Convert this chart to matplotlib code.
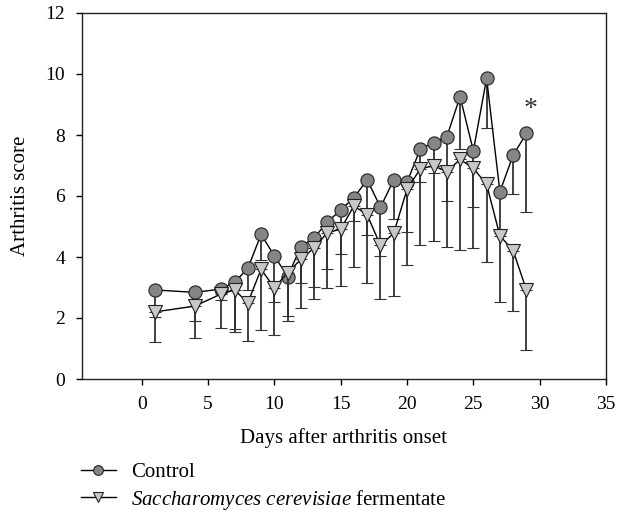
import numpy as np
import matplotlib.pyplot as plt
from matplotlib.lines import Line2D

plt.rcParams['font.family'] = ['Liberation Serif', 'DejaVu Serif']
plt.rcParams['mathtext.fontset'] = 'custom'
plt.rcParams['mathtext.rm'] = 'Liberation Serif'
plt.rcParams['mathtext.it'] = 'Liberation Serif:italic'

# Data
days = [1, 4, 6, 7, 8, 9, 10, 11, 12, 13, 14, 15, 16, 17, 18, 19, 20,
        21, 22, 23, 24, 25, 26, 27, 28, 29]

control = [2.92, 2.84, 2.95, 3.17, 3.63, 4.74, 4.04, 3.36, 4.34, 4.63, 5.15, 5.54, 5.95,
           6.53, 5.63, 6.53, 6.45, 7.54, 7.75, 7.94, 9.26, 7.48, 9.86, 6.14, 7.34, 8.05]
control_err = [0.88, 0.94, 0.36, 1.53, 0.71, 0.84, 1.53, 1.28, 1.20, 1.60, 1.55, 1.45, 0.76,
               1.80, 1.59, 1.28, 1.62, 1.09, 0.99, 2.09, 1.73, 1.83, 1.64, 1.35, 1.27, 2.56]

ferment = [2.20, 2.39, 2.79, 2.92, 2.50, 3.60, 2.99, 3.49, 3.92, 4.30, 4.80, 4.91, 5.68,
           5.38, 4.38, 4.78, 6.22, 6.89, 6.99, 6.80, 7.20, 6.91, 6.38, 4.70, 4.21, 2.92]
ferment_err = [0.98, 1.06, 1.11, 1.37, 1.24, 2.00, 1.55, 1.60, 1.60, 1.69, 1.80, 1.85, 2.02,
               2.24, 1.75, 2.06, 2.48, 2.50, 2.47, 2.46, 2.97, 2.60, 2.55, 2.19, 1.97, 1.97]

labels = ['Control', r'$\mathit{Saccharomyces\ cerevisiae}$ fermentate']
star_day, star_y = 29.3, 8.85

fig = plt.figure(figsize=(6.18, 5.16), dpi=100)
ax = fig.add_axes([82 / 618, 1 - 379 / 516, (606 - 82) / 618, (379 - 13) / 516])

line_kw = dict(color='black', lw=1.0, ecolor='#333333', elinewidth=1.3,
               capsize=4.5, capthick=1.3, markeredgecolor='#222222', markeredgewidth=0.8)

# only the lower half of the error bar is drawn
ax.errorbar(days, control, yerr=[control_err, np.zeros(len(days))], fmt='-o',
            markersize=9.5, markerfacecolor='#858585', zorder=3, **line_kw)
ax.errorbar(days, ferment, yerr=[ferment_err, np.zeros(len(days))], fmt='-v',
            markersize=10.5, markerfacecolor='#c8c8c8', zorder=4, **line_kw)

ax.text(star_day, star_y, '*', fontsize=20, ha='center', va='center', color='#333333')

ax.set_xlim(-4.5, 35)
ax.set_ylim(0, 12)
ax.set_xticks(range(0, 36, 5))
ax.set_yticks(range(0, 13, 2))
ax.tick_params(direction='out', length=4, width=1, labelsize=14, pad=8)
for s in ax.spines.values():
    s.set_linewidth(1.0)
    s.set_color('#222222')

ax.set_xlabel('Days after arthritis onset', fontsize=15, labelpad=11)
ax.set_ylabel('Arthritis score', fontsize=15, labelpad=11)

handles = [
    Line2D([], [], color='black', lw=1.0, marker='o', markersize=7,
           markerfacecolor='#858585', markeredgecolor='#222222', markeredgewidth=0.8),
    Line2D([], [], color='black', lw=1.0, marker='v', markersize=7.5,
           markerfacecolor='#c8c8c8', markeredgecolor='#222222', markeredgewidth=0.8),
]
fig.legend(handles, labels, loc='upper left', bbox_to_anchor=(62 / 618, 1 - 444 / 516),
           frameon=False, fontsize=15, handlelength=1.7, handletextpad=0.7,
           labelspacing=0.25)

fig.savefig('out.png', dpi=100)
